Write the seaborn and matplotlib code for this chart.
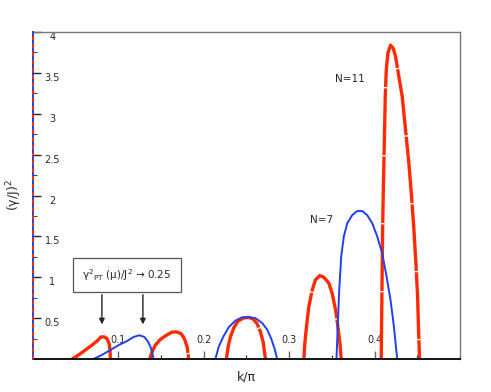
import numpy as np
import pandas as pd
import seaborn as sns
import matplotlib.pyplot as plt
from matplotlib.ticker import MultipleLocator, StrMethodFormatter

# values, one list per lobe
n7_k = [
    [0.0710, 0.0808, 0.0906, 0.1003, 0.1102, 0.1179, 0.1246, 0.1304, 0.1348, 0.1383, 0.1413],
    [0.2136, 0.2175, 0.2227, 0.2293, 0.2371, 0.2449, 0.2527, 0.2605, 0.2684, 0.2742,
     0.2789, 0.2828, 0.2859],
    [0.3554, 0.3570, 0.3586, 0.3609, 0.3640, 0.3680, 0.3738, 0.3797, 0.3856, 0.3914,
     0.3973, 0.4031, 0.4090, 0.4140, 0.4187, 0.4226, 0.4265],
]
n7_g = [
    [0.0, 0.05, 0.11, 0.17, 0.22, 0.27, 0.29, 0.27, 0.21, 0.13, 0.0],
    [0.0, 0.15, 0.27, 0.39, 0.47, 0.51, 0.51, 0.50, 0.44, 0.36, 0.25, 0.13, 0.0],
    [0.0, 0.44, 0.84, 1.25, 1.50, 1.66, 1.76, 1.81, 1.81, 1.76, 1.66, 1.50, 1.29,
     1.01, 0.72, 0.40, 0.0],
]
n11_k = [
    [0.0457, 0.0535, 0.0613, 0.0691, 0.0750, 0.0797, 0.0836, 0.0867, 0.0891, 0.0902, 0.0906],
    [0.1367, 0.1395, 0.1433, 0.1492, 0.1562, 0.1629, 0.1688, 0.1734, 0.1773, 0.1805, 0.1824],
    [0.2265, 0.2285, 0.2312, 0.2351, 0.2398, 0.2461, 0.2520, 0.2578, 0.2625, 0.2664,
     0.2695, 0.2722],
    [0.3172, 0.3183, 0.3203, 0.3230, 0.3269, 0.3308, 0.3359, 0.3406, 0.3464, 0.3504,
     0.3543, 0.3570, 0.3594, 0.3609],
    [0.4078, 0.4094, 0.4101, 0.4109, 0.4117, 0.4125, 0.4137, 0.4156, 0.4187, 0.4219,
     0.4246, 0.4285, 0.4324, 0.4363, 0.4402, 0.4433, 0.4461, 0.4484, 0.4504, 0.4515, 0.4527],
]
n11_g = [
    [0.0, 0.05, 0.11, 0.17, 0.22, 0.27, 0.27, 0.25, 0.19, 0.11, 0.0],
    [0.0, 0.09, 0.17, 0.24, 0.29, 0.33, 0.33, 0.31, 0.25, 0.15, 0.0],
    [0.0, 0.15, 0.27, 0.38, 0.46, 0.50, 0.51, 0.49, 0.43, 0.33, 0.21, 0.0],
    [0.0, 0.19, 0.40, 0.64, 0.84, 0.97, 1.02, 1.00, 0.93, 0.80, 0.60, 0.40, 0.19, 0.0],
    [0.0, 1.58, 1.99, 2.39, 2.80, 3.21, 3.54, 3.74, 3.84, 3.80, 3.70, 3.45, 3.21,
     2.80, 2.39, 1.99, 1.58, 1.17, 0.76, 0.35, 0.0],
]
x_ticks = [0.1, 0.2, 0.3, 0.4]
y_ticks = [0.5, 1, 1.5, 2, 2.5, 3, 3.5, 4]
arrow_k = [0.0807, 0.1287]

rows = []
for name, ks, gs in [("N=7", n7_k, n7_g), ("N=11", n11_k, n11_g)]:
    for i, (kk, gg) in enumerate(zip(ks, gs)):
        for a, b in zip(kk, gg):
            rows.append({"k": a, "g": b, "N": name, "lobe": f"{name}-{i}"})
df = pd.DataFrame(rows)

sns.set_style("white")
plt.rcParams['font.family'] = ['DejaVu Sans']
plt.rcParams['mathtext.fontset'] = 'dejavusans'

fig = plt.figure(figsize=(4.91, 3.92), dpi=100)
ax = fig.add_axes([0.0672, 0.0842, 0.8696, 0.834])

red = "#ff2a00"
blue = "#1f40f0"

sns.lineplot(data=df[df.N == "N=11"], x="k", y="g", units="lobe", estimator=None,
             sort=False, color=red, linewidth=2.4, linestyle=(0, (20, 0.4)), ax=ax)
sns.lineplot(data=df[df.N == "N=7"], x="k", y="g", units="lobe", estimator=None,
             sort=False, color=blue, linewidth=1.4, ax=ax)

ax.set_xlim(0, 0.5)
ax.set_ylim(0, 4.0)

ax.set_xticks(x_ticks)
ax.set_yticks(y_ticks)
ax.yaxis.set_major_formatter(StrMethodFormatter("{x:g}"))
ax.xaxis.set_minor_locator(MultipleLocator(0.05))
ax.yaxis.set_minor_locator(MultipleLocator(0.25))
ax.tick_params(axis="x", which="major", direction="in", length=6, width=1,
               color="#666666", pad=-17, labelsize=7)
ax.tick_params(axis="x", which="minor", direction="in", length=3, width=0.8,
               color="#222222")
ax.tick_params(axis="y", which="major", direction="in", length=6, width=1,
               color="#222222", pad=-14, labelsize=7)
ax.tick_params(axis="y", which="minor", direction="in", length=3, width=0.8,
               color="#444444")
ax.tick_params(bottom=True, left=True, which="both")
plt.setp(ax.get_yticklabels(), ha="center", va="top")

for s in ["top", "right"]:
    ax.spines[s].set_color("#777777")
    ax.spines[s].set_linewidth(1)
ax.spines["bottom"].set_color("black")
ax.spines["bottom"].set_linewidth(1.3)
ax.spines["left"].set_color(blue)
ax.spines["left"].set_linewidth(1.4)
ax.spines["left"].set_zorder(3)
ax.axvline(ax.get_xlim()[0], color=red, lw=1.4, linestyle=(0, (2, 2)), zorder=4,
           clip_on=False)

ax.set_xlabel("k/π", fontsize=9)
ax.set_ylabel(r"(γ/J)$^2$", fontsize=9)
ax.xaxis.set_label_coords(0.5, -0.035)
ax.yaxis.set_label_coords(-0.022, 0.5)

ax.text(0.371, 3.43, "N=11", fontsize=7.5, ha="center", va="center")
ax.text(0.338, 1.70, "N=7", fontsize=7.5, ha="center", va="center")

ax.text(0.110, 1.03, r"γ$^{2}$$_{\mathrm{PT}}$ (μ)/J$^{2}$ → 0.25", fontsize=7.5,
        ha="center", va="center",
        bbox=dict(boxstyle="square,pad=0.9", fc="white", ec="#555555", lw=0.9))
for xk in arrow_k:
    ax.annotate("", xy=(xk, 0.39), xytext=(xk, 0.82),
                arrowprops=dict(arrowstyle="-|>", color="#222222", lw=1,
                                mutation_scale=8))

fig.savefig("out.png", dpi=100)
